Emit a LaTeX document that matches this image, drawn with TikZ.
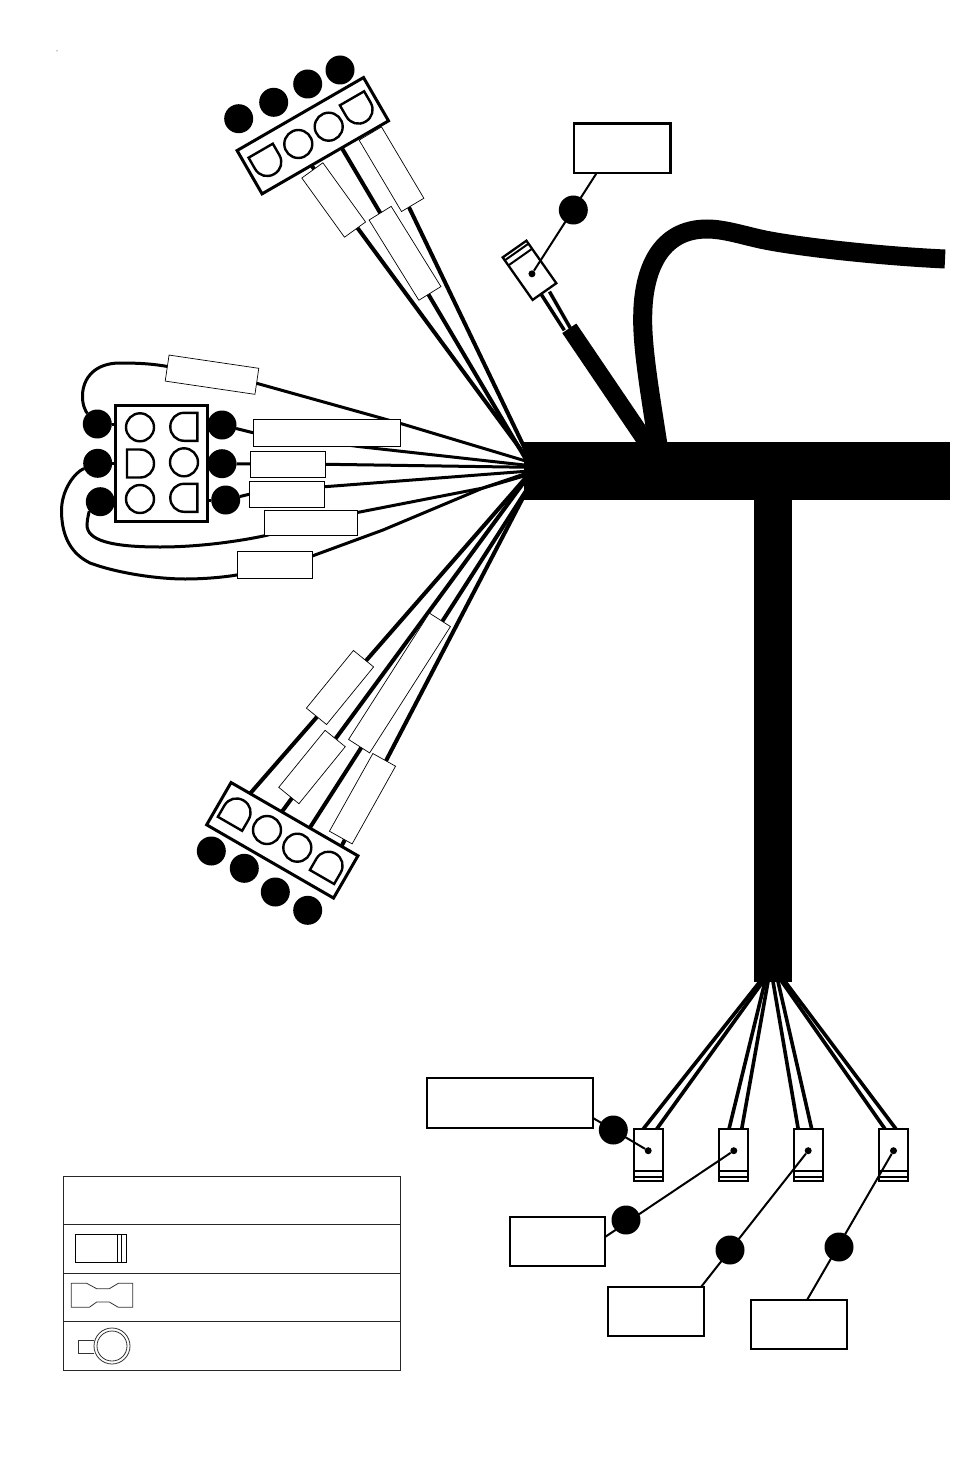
\documentclass[tikz,border=0pt]{standalone}
\usepackage{tikz}
\usetikzlibrary{calc,positioning,backgrounds}

% flat-topped contact of a plug: x, y, rotation
\newcommand{\flatpin}[3]{
	\draw[pinline,shift={(#1,#2)},rotate=#3] (-14,0) -- (14,0) -- (14,13)
	.. controls (14,21) and (8,27) .. (0,27)
	.. controls (-8,27) and (-14,21) .. (-14,13) -- cycle;
}
% crimp terminal with its two stripes and the pin dot: name, x, y, rotation
\newcommand{\terminal}[4]{
	\node[termbox,rotate=#4] (#1) at (#2,#3) {};
	\draw[termline] ($(#1.north west)!0.81!(#1.south west)$) -- ($(#1.north east)!0.81!(#1.south east)$);
	\draw[termline] ($(#1.north west)!0.93!(#1.south west)$) -- ($(#1.north east)!0.93!(#1.south east)$);
	\node[pindot] (#1dot) at ($(#1.center)!0.165!(#1.north)$) {};
}

\begin{document}
\begin{tikzpicture}[
		x=1pt,y=-1pt,
		bus/.style={
			fill=black,
			rectangle,
			inner sep=0pt,
			outer sep=0pt
		},
		wire/.style={line width=4pt,shorten >=-4pt},
		dropwire/.style={line width=3.6pt,shorten >=-4pt},
		thinwire/.style={line width=3pt},
		leader/.style={line width=2pt},
		tube/.style={
			draw=black,
			line width=0.7pt,
			fill=white,
			rectangle,
			inner sep=0pt,
			outer sep=0pt,
			minimum height=26pt
		},
		flag/.style={
			draw=black,
			line width=1.5pt,
			fill=white,
			rectangle,
			inner sep=0pt,
			outer sep=0pt
		},
		calloutbox/.style={
			draw=black,
			line width=2.5pt,
			fill=white,
			rectangle,
			inner sep=0pt,
			outer sep=0pt
		},
		plug/.style={
			draw=black,
			line width=3pt,
			fill=white,
			rectangle,
			inner sep=0pt,
			outer sep=0pt
		},
		termbox/.style={
			draw=black,
			line width=2.3pt,
			fill=white,
			rectangle,
			inner sep=0pt,
			outer sep=0pt,
			minimum width=29pt,
			minimum height=52pt
		},
		termline/.style={line width=2pt},
		pinline/.style={draw=black,line width=2.4pt,fill=white},
		roundpin/.style={
			draw=black,
			line width=2.4pt,
			fill=white,
			circle,
			inner sep=0pt,
			minimum size=28pt
		},
		blob/.style={
			fill=black,
			circle,
			inner sep=0pt,
			outer sep=0pt,
			minimum size=29pt
		},
		pindot/.style={
			fill=black,
			circle,
			inner sep=0pt,
			minimum size=7pt
		},
		legendline/.style={draw=black!85,line width=1pt},
		iconline/.style={draw=black!80,line width=0.8pt}
		]
		\useasboundingbox (0,0) rectangle (954,1474);
		
		% Main bundle
		\node[bus,minimum width=426.5pt,minimum height=57.5pt] (trunk) at (736.75,470.75) {};
		\node[bus,minimum width=38.5pt,minimum height=482.5pt] (drop) at (772.75,740.25) {};
		
		% Sleeved cable and the long cable
		\coordinate (sleeveEnd) at (569.3,328.3);
		\draw[line width=17pt] (sleeveEnd) -- ([xshift=-85pt,yshift=-8pt]trunk.north);
		\draw[line width=19pt] ([xshift=-78pt,yshift=-8pt]trunk.north)
		.. controls (652,405) and (642,350) .. (642.7,316.7)
		.. controls (643,270) and (660,229) .. (707,229)
		.. controls (725,229) and (745,236) .. (765,240)
		.. controls (800,247) and (880,256) .. (945,259);
		
		% Top plug
		\node[plug,minimum width=146pt,minimum height=50pt,rotate=30] (plugTop) at (312.8,135.7) {};
		\begin{scope}[on background layer]
			\draw[wire] ($(plugTop.south west)!0.39!(plugTop.south east)$) -- ([yshift=17.5pt]trunk.west);
			\draw[wire] ($(plugTop.south west)!0.63!(plugTop.south east)$) -- ([yshift=15.5pt]trunk.west);
			\draw[wire] ($(plugTop.south west)!0.87!(plugTop.south east)$) -- ([yshift=25pt]trunk.west);
		\end{scope}
		\flatpin{260.7}{150.7}{30}
		\flatpin{352}{98.3}{30}
		\node[roundpin] (pinTopA) at (298.3,144) {};
		\node[roundpin] (pinTopB) at (328.7,126.7) {};
		\node[blob] (blobTopA) at (238.7,118.7) {};
		\node[blob] (blobTopB) at (273.7,102.3) {};
		\node[blob] (blobTopC) at (307.7,84) {};
		\node[blob] (blobTopD) at (340,70) {};
		\node[tube,minimum width=73pt,rotate=-54.2] (tubeTopA) at (333.7,200) {};
		\node[tube,minimum width=83pt,rotate=-59.3] (tubeTopC) at (391.5,169.2) {};
		\node[tube,minimum width=94.4pt,rotate=-58.2] (tubeTopB) at (405,253.3) {};
		
		% Side plug
		\node[plug,minimum width=92pt,minimum height=115.7pt] (plugSide) at (161,463.2) {};
		\node[roundpin] (pinSideA) at (140,427.3) {};
		\node[roundpin] (pinSideB) at (184,462.3) {};
		\node[roundpin] (pinSideC) at (140,499) {};
		\flatpin{197.3}{426.8}{-90}
		\flatpin{127}{463.5}{90}
		\flatpin{197.3}{497.8}{-90}
		\node[blob] (blobLeftA) at (97.3,424) {};
		\node[blob] (blobLeftB) at (97.7,463.3) {};
		\node[blob] (blobLeftC) at (100.3,501.7) {};
		\node[blob] (blobRightA) at (222,425) {};
		\node[blob] (blobRightB) at (222,463.7) {};
		\node[blob] (blobRightC) at (225.7,500) {};
		\begin{scope}[on background layer]
			\draw[thinwire] (blobLeftA) .. controls (86,412) and (82,405) .. (82.5,395)
			.. controls (83,378) and (95,363) .. (120,363)
			.. controls (140,363) and (155,364) .. (170,367)
			-- (256.7,383.3) -- (400,423.3) -- ([xshift=3pt,yshift=9.5pt]trunk.west);
			\draw[thinwire] (blobRightA) -- (253,432.7) -- (360,446.7) -- ([xshift=3pt,yshift=5.5pt]trunk.west);
			\draw[thinwire] (blobRightB) -- (326.7,464.3) -- ([xshift=3pt,yshift=3.5pt]trunk.west);
			\draw[thinwire] (blobRightC) -- (249,494.3) -- (325,486.7) -- ([xshift=3pt,yshift=-0.5pt]trunk.west);
			\draw[thinwire] (blobLeftC) .. controls (90,510) and (87,518) .. (87,525)
			.. controls (87,540) and (110,547) .. (160,547)
			.. controls (200,547) and (240,541) .. (265,535.7)
			-- (358.3,512.3) -- (483,488) -- ([xshift=3pt,yshift=-4.5pt]trunk.west);
			\draw[thinwire] (blobLeftB) .. controls (75,472) and (61,490) .. (61.5,512)
			.. controls (62,538) and (72,554) .. (90,563)
			.. controls (120,574) and (160,579) .. (185,579)
			.. controls (205,579) and (225,577) .. (236.7,575)
			-- (313,555.7) -- (383,530) -- (483,488) -- ([xshift=3pt,yshift=-2.5pt]trunk.west);
			\draw[thinwire] (blobLeftA -| plugSide.west) -- (blobLeftA);
			\draw[thinwire] (blobLeftB -| plugSide.west) -- (blobLeftB);
			\draw[thinwire] (blobRightC -| plugSide.east) -- (blobRightC);
		\end{scope}
		\node[flag,line width=0.7pt,minimum width=90.7pt,minimum height=26.3pt,rotate=-8.4] (flagTop) at (212,374.7) {};
		\node[flag,minimum width=147.4pt,minimum height=27pt] (flagA) at (327,432.8) {};
		\node[flag,minimum width=75.4pt,minimum height=26pt] (flagB) at (288,464.3) {};
		\node[flag,minimum width=75.4pt,minimum height=26pt] (flagC) at (287,494.3) {};
		\node[flag,minimum width=93pt,minimum height=25pt] (flagD) at (310.8,522.8) {};
		\node[flag,minimum width=75.4pt,minimum height=27pt] (flagE) at (275,564.8) {};
		
		% Bottom plug
		\node[plug,minimum width=146.5pt,minimum height=48.8pt,rotate=-30] (plugLow) at (282.3,840.3) {};
		\begin{scope}[on background layer]
			\draw[wire] ($(plugLow.north west)!0.15!(plugLow.north east)$) -- ([yshift=-9.5pt]trunk.west);
			\draw[wire] ($(plugLow.north west)!0.40!(plugLow.north east)$) -- ([yshift=-12pt]trunk.west);
			\draw[wire] ($(plugLow.north west)!0.62!(plugLow.north east)$) -- ([yshift=-24pt]trunk.west);
			\draw[wire] ($(plugLow.north west)!0.87!(plugLow.north east)$) -- ([yshift=-26pt]trunk.west);
		\end{scope}
		\flatpin{230}{823.8}{150}
		\flatpin{322}{877}{150}
		\node[roundpin] (pinLowA) at (267,830) {};
		\node[roundpin] (pinLowB) at (297.3,847.7) {};
		\node[blob] (blobLowA) at (211.3,851) {};
		\node[blob] (blobLowB) at (244.3,868.3) {};
		\node[blob] (blobLowC) at (275.3,892) {};
		\node[blob] (blobLowD) at (307.7,910.3) {};
		\node[tube,minimum width=74.4pt,rotate=50.8] (tubeLowA) at (340,687.5) {};
		\node[tube,minimum width=73.5pt,rotate=50.9] (tubeLowB) at (312,767) {};
		\node[tube,minimum width=150pt,minimum height=25pt,rotate=57.4] (tubeLowC) at (399.5,683) {};
		\node[tube,minimum width=89pt,rotate=60.8] (tubeLowD) at (362.5,798.7) {};
		
		% Small terminal on the sleeved cable
		\terminal{termTop}{529.5}{270.3}{-144.9}
		\begin{scope}[on background layer]
			\draw[line width=3.5pt] ([xshift=-5pt]termTop.north) -- ([xshift=-5pt,yshift=-2pt]sleeveEnd);
			\draw[line width=3.5pt] ([xshift=5pt]termTop.north) -- ([xshift=4pt,yshift=-5pt]sleeveEnd);
		\end{scope}
		
		% Four terminals under the bundle
		\terminal{termA}{648.2}{1155}{0}
		\terminal{termB}{733.8}{1155}{0}
		\terminal{termC}{808.2}{1155}{0}
		\terminal{termD}{893.5}{1155}{0}
		\begin{scope}[on background layer]
			\draw[dropwire] ([xshift=-5pt]termA.north) -- ([xshift=-12.75pt]drop.south);
			\draw[dropwire] ([xshift=8.5pt]termA.north) -- ([xshift=-9.75pt]drop.south);
			\draw[dropwire] ([xshift=-4.8pt]termB.north) -- ([xshift=-7.75pt]drop.south);
			\draw[dropwire] ([xshift=7.9pt]termB.north) -- ([xshift=-4.75pt]drop.south);
			\draw[dropwire] ([xshift=-10pt]termC.north) -- ([xshift=0.25pt]drop.south);
			\draw[dropwire] ([xshift=3.5pt]termC.north) -- ([xshift=5.25pt]drop.south);
			\draw[dropwire] ([xshift=-8.5pt]termD.north) -- ([xshift=9pt]drop.south);
			\draw[dropwire] ([xshift=2.5pt]termD.north) -- ([xshift=12.25pt]drop.south);
		\end{scope}
		
		% Callouts
		\node[calloutbox,minimum width=96.3pt,minimum height=49.3pt] (boxTop) at (622.2,148.3) {};
		\node[calloutbox,minimum width=166pt,minimum height=50pt] (boxA) at (510,1103) {};
		\node[calloutbox,minimum width=95pt,minimum height=49pt] (boxB) at (557.5,1241.5) {};
		\node[calloutbox,minimum width=96pt,minimum height=49pt] (boxC) at (656,1311.5) {};
		\node[calloutbox,minimum width=96pt,minimum height=49pt] (boxD) at (799,1324.5) {};
		\draw[leader] ([xshift=-25.5pt]boxTop.south) -- (termTopdot);
		\draw[leader] ([yshift=-15pt]boxA.east) -- (termAdot);
		\draw[leader] ([yshift=4.5pt]boxB.east) -- (termBdot);
		\draw[leader] ([xshift=45pt]boxC.north) -- (termCdot);
		\draw[leader] ([xshift=8pt]boxD.north) -- (termDdot);
		\node[blob] (blobTerm) at (573.3,210) {};
		\node[blob] (blobA) at (613.3,1130) {};
		\node[blob] (blobB) at (626,1220) {};
		\node[blob] (blobC) at (730,1250) {};
		\node[blob] (blobD) at (839,1247) {};
		
		% Legend
		\draw[legendline] (63,1176.7) rectangle (400.3,1370);
		\draw[legendline] (63,1224.3) -- (400.3,1224.3);
		\draw[legendline] (63,1273.3) -- (400.3,1273.3);
		\draw[legendline] (63,1321.7) -- (400.3,1321.7);
		\draw[iconline,draw=black] (75.3,1234.3) rectangle (126.7,1262.3);
		\draw[iconline,draw=black] (117.3,1234.3) -- (117.3,1262.3);
		\draw[iconline,draw=black] (121.7,1234.3) -- (121.7,1262.3);
		\draw[iconline] (71.3,1283.3) -- (86.7,1283.3) -- (96.7,1288.7) -- (109.3,1288.7) -- (118.3,1283.3) -- (132.7,1283.3) -- (132.7,1307.3) -- (118.3,1307.3) -- (109.3,1302) -- (96.7,1302) -- (89.3,1307.3) -- (71.3,1307.3) -- cycle;
		\node[circle,inner sep=0pt,minimum size=36pt,iconline] (ringOuter) at (112,1346) {};
		\node[circle,inner sep=0pt,minimum size=30pt,iconline] (ringInner) at (112,1346) {};
		\draw[iconline] (94.3,1340.3) -- (78.3,1340.3) -- (78.3,1353.7) -- (94.3,1353.7);
		
		% Speck near the corner
		\fill (57,51) circle (0.5);
	\end{tikzpicture}
\end{document}
